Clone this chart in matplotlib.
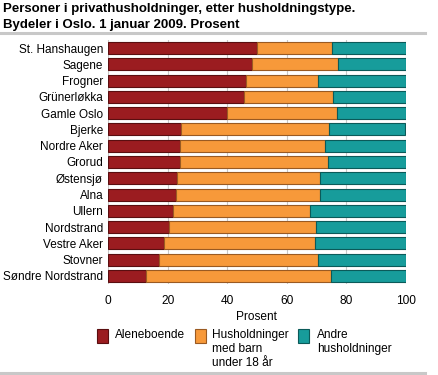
import matplotlib.pyplot as plt
import matplotlib.patches as mpatches
import numpy as np

# Data (percent), top to bottom as in the chart
bydeler = ["St. Hanshaugen", "Sagene", "Frogner", "Grünerløkka", "Gamle Oslo",
           "Bjerke", "Nordre Aker", "Grorud", "Østensjø", "Alna", "Ullern",
           "Nordstrand", "Vestre Aker", "Stovner", "Søndre Nordstrand"]
aleneboende = [50.1, 48.3, 46.2, 45.5, 39.9, 24.4, 24.0, 24.0, 23.0, 22.9,
               21.9, 20.4, 18.9, 17.2, 12.9]
med_barn = [25.2, 29.0, 24.4, 30.1, 36.9, 49.9, 48.9, 49.7, 48.0, 48.4,
            46.0, 49.5, 50.7, 53.4, 61.9]
andre = [24.7, 22.7, 29.4, 24.4, 23.2, 25.5, 27.1, 26.3, 29.0, 28.7,
         32.1, 30.1, 30.4, 29.4, 25.2]
series_labels = ["Aleneboende", "Husholdninger\nmed barn\nunder 18 år",
                 "Andre\nhusholdninger"]

colors = ["#9b1c20", "#f7993a", "#179c9b"]
edges = ["#5a0e10", "#9a5a22", "#0b5a59"]

plt.rcParams['font.family'] = ['Liberation Sans', 'DejaVu Sans']

W, H = 439, 375
fig = plt.figure(figsize=(W / 100, H / 100), dpi=100)
ax = fig.add_axes([108 / W, 1 - 284 / H, 298 / W, 244 / H])

y = np.arange(len(bydeler))
left = np.zeros(len(bydeler))
for vals, c, e, lab in zip([aleneboende, med_barn, andre], colors, edges, series_labels):
    ax.barh(y, vals, left=left, height=0.74, color=c, edgecolor=e,
            linewidth=0.8, label=lab, zorder=3)
    left += np.array(vals)

ax.set_ylim(len(bydeler) - 0.5, -0.5)
ax.set_xlim(0, 100)
ax.set_yticks(y)
ax.set_yticklabels(bydeler, fontsize=8.5)
ax.set_xticks([0, 20, 40, 60, 80, 100])
ax.tick_params(axis='x', labelsize=8.6, length=0, pad=8)
ax.tick_params(axis='y', length=0, pad=3.5)
ax.set_xlabel("Prosent", fontsize=8.6, labelpad=3)
ax.grid(axis='x', color='#c8c8c8', linewidth=0.8, zorder=0)
for s in ax.spines.values():
    s.set_visible(False)

# Title
fig.text(3 / W, 1 - 3 / H, "Personer i privathusholdninger, etter husholdningstype.\n"
         "Bydeler i Oslo. 1 januar 2009. Prosent", fontsize=9.5, fontweight='bold',
         va='top', ha='left', linespacing=1.45)
fig.add_artist(plt.Line2D([0, 425 / W], [1 - 33 / H, 1 - 33 / H], color='#c8c8c8', lw=2.2))
fig.add_artist(plt.Line2D([0, 425 / W], [1 - 373 / H, 1 - 373 / H], color='#c8c8c8', lw=2.2))

# Legend (square aligned with first text line)
box_x = [97, 195, 298]
text_x = [115, 212, 317]
for bx, tx, c, e, lab in zip(box_x, text_x, colors, edges, series_labels):
    fig.add_artist(mpatches.Rectangle((bx / W, 1 - 343 / H), 11 / W, 14 / H,
                                      facecolor=c, edgecolor=e, linewidth=0.8,
                                      transform=fig.transFigure))
    fig.text(tx / W, 1 - 329 / H, lab, fontsize=8.6, va='top', ha='left',
             linespacing=1.2)

fig.savefig("out.png", dpi=100)
